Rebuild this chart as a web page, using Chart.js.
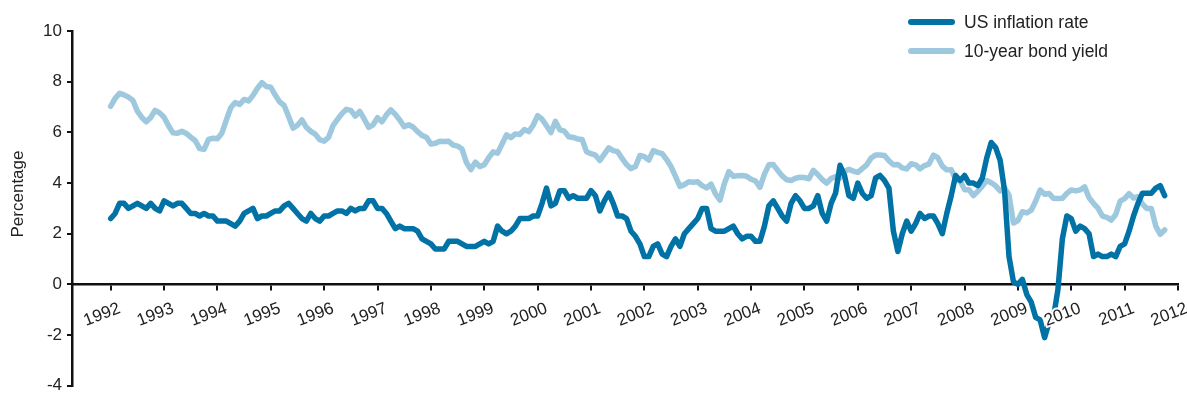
<!DOCTYPE html>
<html>
<head>
<meta charset="utf-8">
<script src="https://cdn.jsdelivr.net/npm/chart.js@4.4.1/dist/chart.umd.min.js"></script>
<style>
  html, body { margin: 0; padding: 0; background: #ffffff; }
  #wrap { width: 1187px; height: 401px; position: relative; }
</style>
</head>
<body>
<div id="wrap"><canvas id="chart"></canvas></div>
<script>
// ---- Data (monthly, Jan 1992 - Oct 2011) ----
const startYear = 1992;
const seriesNames = ['US inflation rate', '10-year bond yield'];
const inflationRate = [
  2.6, 2.8, 3.2, 3.2, 3.0, 3.1, 3.2, 3.1, 3.0, 3.2, 3.0, 2.9,
  3.3, 3.2, 3.1, 3.2, 3.2, 3.0, 2.8, 2.8, 2.7, 2.8, 2.7, 2.7,
  2.5, 2.5, 2.5, 2.4, 2.3, 2.5, 2.8, 2.9, 3.0, 2.6, 2.7, 2.7,
  2.8, 2.9, 2.9, 3.1, 3.2, 3.0, 2.8, 2.6, 2.5, 2.8, 2.6, 2.5,
  2.7, 2.7, 2.8, 2.9, 2.9, 2.8, 3.0, 2.9, 3.0, 3.0, 3.3, 3.3,
  3.0, 3.0, 2.8, 2.5, 2.2, 2.3, 2.2, 2.2, 2.2, 2.1, 1.8, 1.7,
  1.6, 1.4, 1.4, 1.4, 1.7, 1.7, 1.7, 1.6, 1.5, 1.5, 1.5, 1.6,
  1.7, 1.6, 1.7, 2.3, 2.1, 2.0, 2.1, 2.3, 2.6, 2.6, 2.6, 2.7,
  2.7, 3.2, 3.8, 3.1, 3.2, 3.7, 3.7, 3.4, 3.5, 3.4, 3.4, 3.4,
  3.7, 3.5, 2.9, 3.3, 3.6, 3.2, 2.7, 2.7, 2.6, 2.1, 1.9, 1.6,
  1.1, 1.1, 1.5, 1.6, 1.2, 1.1, 1.5, 1.8, 1.5, 2.0, 2.2, 2.4,
  2.6, 3.0, 3.0, 2.2, 2.1, 2.1, 2.1, 2.2, 2.3, 2.0, 1.8, 1.9,
  1.9, 1.7, 1.7, 2.3, 3.1, 3.3, 3.0, 2.7, 2.5, 3.2, 3.5, 3.3,
  3.0, 3.0, 3.1, 3.5, 2.8, 2.5, 3.2, 3.6, 4.7, 4.3, 3.5, 3.4,
  4.0, 3.6, 3.4, 3.5, 4.2, 4.3, 4.1, 3.8, 2.1, 1.3, 2.0, 2.5,
  2.1, 2.4, 2.8, 2.6, 2.7, 2.7, 2.4, 2.0, 2.8, 3.5, 4.3, 4.1,
  4.3, 4.0, 4.0, 3.9, 4.2, 5.0, 5.6, 5.4, 4.9, 3.7, 1.1, 0.1,
  0.0, 0.2, -0.4, -0.7, -1.3, -1.4, -2.1, -1.5, -1.3, -0.2, 1.8, 2.7,
  2.6, 2.1, 2.3, 2.2, 2.0, 1.1, 1.2, 1.1, 1.1, 1.2, 1.1, 1.5,
  1.6, 2.1, 2.7, 3.2, 3.6, 3.6, 3.6, 3.8, 3.9, 3.5
];
const bondYield = [
  7.03, 7.34, 7.54, 7.48, 7.39, 7.26, 6.84, 6.59, 6.42, 6.59, 6.87, 6.77,
  6.60, 6.26, 5.98, 5.97, 6.04, 5.96, 5.81, 5.68, 5.36, 5.33, 5.72, 5.77,
  5.75, 5.97, 6.48, 6.97, 7.18, 7.10, 7.30, 7.24, 7.46, 7.74, 7.96, 7.81,
  7.78, 7.47, 7.20, 7.06, 6.63, 6.17, 6.28, 6.49, 6.20, 6.04, 5.93, 5.71,
  5.65, 5.81, 6.27, 6.51, 6.74, 6.91, 6.87, 6.64, 6.83, 6.53, 6.20, 6.30,
  6.58, 6.42, 6.69, 6.89, 6.71, 6.49, 6.22, 6.30, 6.21, 6.03, 5.88, 5.81,
  5.54, 5.57, 5.65, 5.64, 5.65, 5.50, 5.46, 5.34, 4.81, 4.53, 4.83, 4.65,
  4.72, 5.00, 5.23, 5.18, 5.54, 5.90, 5.79, 5.94, 5.92, 6.11, 6.03, 6.28,
  6.66, 6.52, 6.26, 5.99, 6.44, 6.10, 6.05, 5.83, 5.80, 5.74, 5.72, 5.24,
  5.16, 5.10, 4.89, 5.14, 5.39, 5.28, 5.24, 4.97, 4.73, 4.57, 4.65, 5.09,
  5.04, 4.91, 5.28, 5.21, 5.16, 4.93, 4.65, 4.26, 3.87, 3.94, 4.05, 4.03,
  4.05, 3.90, 3.81, 3.96, 3.57, 3.33, 3.98, 4.45, 4.27, 4.29, 4.30, 4.27,
  4.15, 4.08, 3.83, 4.35, 4.72, 4.73, 4.50, 4.28, 4.13, 4.10, 4.19, 4.23,
  4.22, 4.17, 4.50, 4.34, 4.14, 4.00, 4.18, 4.26, 4.20, 4.46, 4.54, 4.47,
  4.42, 4.57, 4.72, 4.99, 5.11, 5.11, 5.09, 4.88, 4.72, 4.73, 4.60, 4.56,
  4.76, 4.72, 4.56, 4.69, 4.75, 5.10, 5.00, 4.67, 4.52, 4.53, 4.15, 4.10,
  3.74, 3.74, 3.51, 3.68, 3.88, 4.10, 4.01, 3.89, 3.69, 3.81, 3.53, 2.42,
  2.52, 2.87, 2.82, 2.93, 3.29, 3.72, 3.56, 3.59, 3.40, 3.39, 3.40, 3.59,
  3.73, 3.69, 3.73, 3.85, 3.42, 3.20, 3.01, 2.70, 2.65, 2.54, 2.76, 3.29,
  3.39, 3.58, 3.41, 3.46, 3.17, 3.00, 3.00, 2.30, 1.98, 2.15
];
const xTickYears = [1992, 1993, 1994, 1995, 1996, 1997, 1998, 1999, 2000, 2001,
  2002, 2003, 2004, 2005, 2006, 2007, 2008, 2009, 2010, 2011, 2012];
const yTickValues = [-4, -2, 0, 2, 4, 6, 8, 10];
const yAxisTitle = 'Percentage';

// ---- Styling ----
const darkBlue = '#0072a5';
const lightBlue = '#9dc8de';
const textColor = '#222222';
const fontFamily = '"Liberation Sans", Arial, Helvetica, sans-serif';

// month -> fractional year position on the linear x scale
const toPoints = (arr) => arr.map((v, i) => ({ x: startYear + i / 12, y: v }));

const customLegend = {
  id: 'customLegend',
  afterDraw(chart) {
    const ctx = chart.ctx;
    const rows = [
      { label: chart.data.datasets[0].label, color: chart.data.datasets[0].borderColor, y: 22 },
      { label: chart.data.datasets[1].label, color: chart.data.datasets[1].borderColor, y: 51 }
    ];
    ctx.save();
    rows.forEach(r => {
      ctx.beginPath();
      ctx.lineCap = 'round';
      ctx.lineWidth = 6;
      ctx.strokeStyle = r.color;
      ctx.moveTo(911, r.y);
      ctx.lineTo(952, r.y);
      ctx.stroke();
      ctx.font = '17.5px ' + fontFamily;
      ctx.fillStyle = textColor;
      ctx.textAlign = 'left';
      ctx.textBaseline = 'middle';
      ctx.fillText(r.label, 964, r.y + 1);
    });
    ctx.restore();
  }
};

const yTitlePlugin = {
  id: 'yTitlePlugin',
  afterDraw(chart) {
    const ctx = chart.ctx;
    ctx.save();
    ctx.translate(18, 194);
    ctx.rotate(-Math.PI / 2);
    ctx.font = '17px ' + fontFamily;
    ctx.fillStyle = textColor;
    ctx.textAlign = 'center';
    ctx.textBaseline = 'middle';
    ctx.fillText(yAxisTitle, 0, 0);
    ctx.restore();
  }
};

new Chart(document.getElementById('chart'), {
  type: 'line',
  data: {
    datasets: [
      {
        label: seriesNames[0],
        data: toPoints(inflationRate),
        borderColor: darkBlue,
        backgroundColor: darkBlue,
        borderWidth: 5.5,
        pointRadius: 0,
        tension: 0,
        borderJoinStyle: 'round',
        borderCapStyle: 'round'
      },
      {
        label: seriesNames[1],
        data: toPoints(bondYield),
        borderColor: lightBlue,
        backgroundColor: lightBlue,
        borderWidth: 5.5,
        pointRadius: 0,
        tension: 0,
        borderJoinStyle: 'round',
        borderCapStyle: 'round'
      }
    ]
  },
  options: {
    responsive: true,
    maintainAspectRatio: false,
    animation: false,
    layout: { padding: { top: 31, right: 9, bottom: 8, left: 0 } },
    plugins: {
      legend: { display: false },
      tooltip: { enabled: false }
    },
    scales: {
      x: {
        type: 'linear',
        position: { y: 0 },
        min: 1991.275,
        max: 2012,
        afterBuildTicks: (scale) => { scale.ticks = xTickYears.map(v => ({ value: v })); },
        afterFit: (scale) => { scale.paddingLeft = 0; scale.paddingRight = 0; },
        border: { display: true, color: '#111111', width: 2.5 },
        grid: { display: true, drawOnChartArea: false, drawTicks: true, tickLength: 5, color: '#111111', lineWidth: 2 },
        ticks: {
          z: 1,
          autoSkip: false,
          minRotation: 21,
          maxRotation: 21,
          padding: 9,
          labelOffset: 9,
          color: textColor,
          font: { family: fontFamily, size: 17 },
          textStrokeColor: '#ffffff',
          textStrokeWidth: 4,
          callback: (v) => String(v)
        }
      },
      y: {
        type: 'linear',
        min: -4,
        max: 10,
        afterBuildTicks: (scale) => { scale.ticks = yTickValues.map(v => ({ value: v })); },
        afterFit: (scale) => { scale.width = 72; },
        border: { display: true, color: '#111111', width: 2.5 },
        grid: { display: true, drawOnChartArea: false, drawTicks: true, tickLength: 5, color: '#111111', lineWidth: 2 },
        ticks: {
          padding: 5,
          color: textColor,
          font: { family: fontFamily, size: 17 },
          callback: (v) => String(v)
        }
      }
    }
  },
  plugins: [customLegend, yTitlePlugin]
});
</script>
</body>
</html>
